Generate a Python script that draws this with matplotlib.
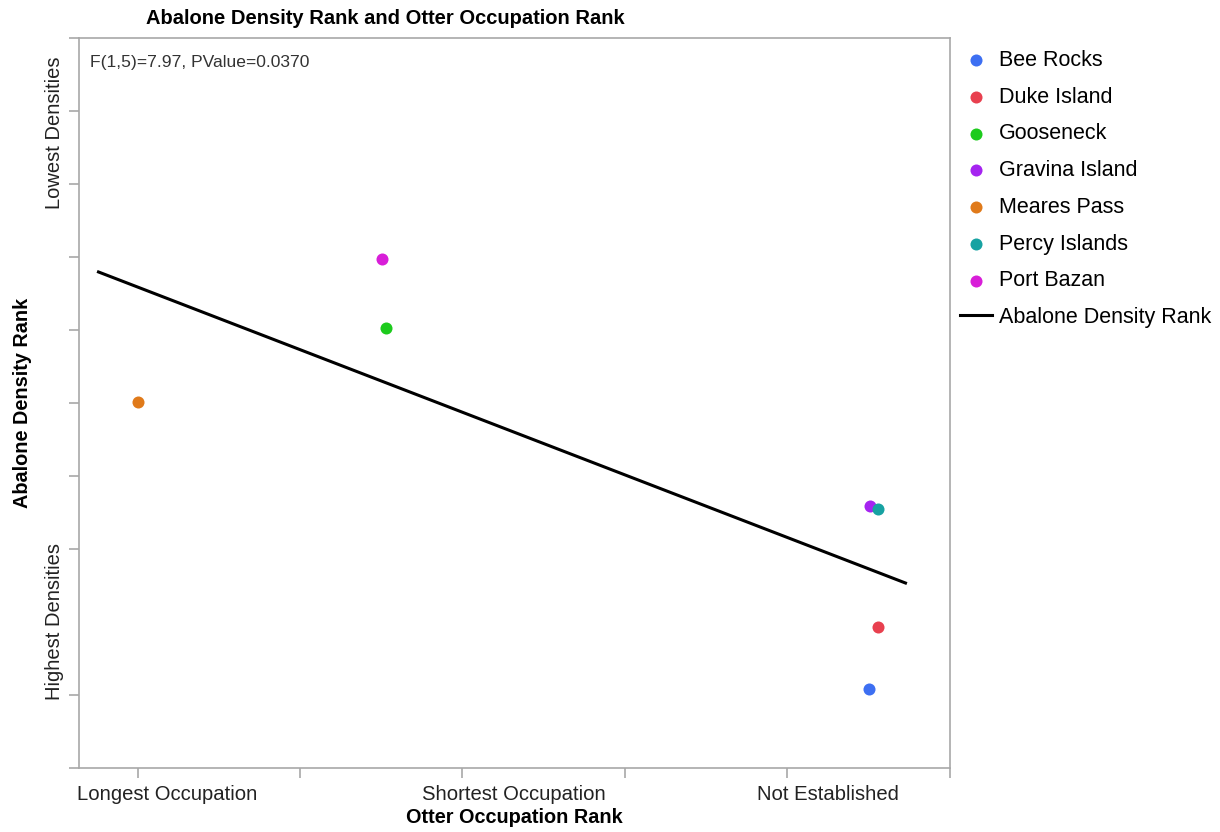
import matplotlib
matplotlib.use("Agg")
import matplotlib.pyplot as plt

plt.rcParams["font.family"] = ["Liberation Sans", "DejaVu Sans"]

# Veri: yerleşim yerleri, otter işgal sırası (x) ve abalone yoğunluk sırası (y)
sites = ["Bee Rocks", "Duke Island", "Gooseneck", "Gravina Island",
         "Meares Pass", "Percy Islands", "Port Bazan"]
occupation = [3.252, 3.28, 1.766, 3.255, 1.003, 3.277, 1.751]
density_rank = [1.08, 1.93, 6.03, 3.59, 5.01, 3.55, 6.97]
colors = ["#3D6FF2", "#E8404F", "#1DCB1D", "#A524F0", "#E07A1A", "#17A2A2", "#D81ED8"]

# regresyon doğrusu uç noktaları
fit_x = [0.88, 3.363]
fit_y = [6.795, 2.534]

x_ticks = [1, 1.5, 2, 2.5, 3, 3.5]
x_label_pos = [1.092, 2.157, 3.123]
x_labels = ["Longest Occupation", "Shortest Occupation", "Not Established"]
y_ticks = [0, 1, 3, 4, 5, 6, 7, 8, 9, 10]
y_label_pos = [2, 8.7]
y_labels = ["Highest Densities", "Lowest Densities"]
stat_text = "F(1,5)=7.97, PValue=0.0370"

W, H = 1220, 832
fig = plt.figure(figsize=(W / 100, H / 100), dpi=100)
ax = fig.add_axes([79 / W, 1 - 768 / H, (950 - 79) / W, (768 - 38) / H])

for name, x, y, c in zip(sites, occupation, density_rank, colors):
    ax.scatter(x, y, s=75, color=c, label=name, zorder=3, linewidths=0)
ax.plot(fit_x, fit_y, color="black", lw=2.2, label="Abalone Density Rank", zorder=2)

ax.set_xlim(0.82, 3.5)
ax.set_ylim(0, 10)

grey = "#A8A8A8"
for sp in ax.spines.values():
    sp.set_color(grey)
    sp.set_linewidth(1.2)

# etiketler tik çizgilerinden biraz sağda duruyor
ax.set_xticks(x_label_pos, labels=x_labels, fontsize=14.6, color="#222222")
ax.tick_params(axis="x", which="major", length=0, pad=12)
ax.set_xticks(x_ticks, minor=True)
ax.tick_params(axis="x", which="minor", length=7, width=1.2, color=grey)

ax.set_yticks(y_label_pos, labels=y_labels, rotation=90, va="center",
              fontsize=14.5, color="#222222")
ax.tick_params(axis="y", which="major", length=0, pad=11)
ax.set_yticks(y_ticks, minor=True)
ax.tick_params(axis="y", which="minor", length=7, width=1.2, color=grey)

ax.set_xlabel("Otter Occupation Rank", fontsize=14.3, fontweight="bold", labelpad=3)
ax.set_ylabel("Abalone Density Rank", fontsize=14.3, fontweight="bold", labelpad=9)

ax.text(0.013, 0.977, stat_text, transform=ax.transAxes, ha="left", va="top",
        fontsize=12.6, color="#333333")

fig.text(385 / W, 1 - 18 / H, "Abalone Density Rank and Otter Occupation Rank",
         ha="center", va="center", fontsize=14.5, fontweight="bold")

ax.legend(loc="upper left", bbox_to_anchor=(960 / W, 1 - 50 / H),
          bbox_transform=fig.transFigure, frameon=False, fontsize=15.5,
          handlelength=1.5, handletextpad=0.3, labelspacing=0.73,
          borderaxespad=0, borderpad=0)

fig.savefig("out.png", dpi=100)
